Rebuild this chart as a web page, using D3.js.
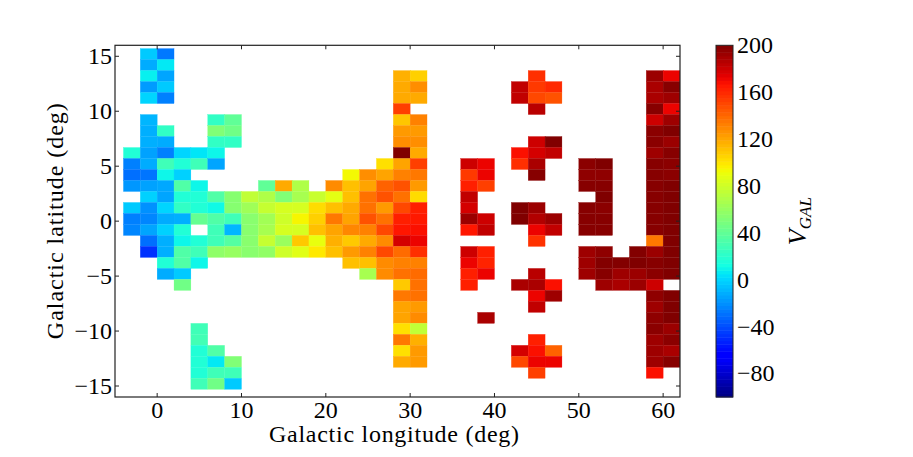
<!DOCTYPE html>
<html><head><meta charset="utf-8">
<script src="https://cdn.jsdelivr.net/npm/d3@7"></script>
<style>
body{margin:0;background:#fff}
text{font-family:"Liberation Serif","Times New Roman",serif;fill:#000}
</style>
</head><body>
<svg id="chart" width="913" height="457"></svg>
<script>
// ---------------- data ----------------
const xTicks = [0, 10, 20, 30, 40, 50, 60];
const yTicks = [-15, -10, -5, 0, 5, 10, 15];
const cbTicks = [-80, -40, 0, 40, 80, 120, 160, 200];
const xLabel = "Galactic longitude (deg)";
const yLabel = "Galactic latitude (deg)";

// cells: [galactic longitude (cell centre, deg), galactic latitude (row), V_GAL]
const innerCells = [
  [-1,15,-3],[1,15,-27],
  [-1,14,-12],[1,14,6],
  [-1,13,8],[1,13,-14],
  [-1,12,-17],[1,12,-3],
  [-1,11,0],[1,11,-25],
  [-1,9,-9],[7,9,23],[9,9,40],
  [-1,8,-11],[1,8,23],[7,8,52],[9,8,46],
  [-1,7,-11],[1,7,-12],[7,7,23],[9,7,23],
  [-3,6,17],[-1,6,-15],[1,6,-25],[3,6,0],[5,6,5],[7,6,10],
  [-3,5,-25],[-1,5,-12],[1,5,28],[3,5,17],[5,5,28],[7,5,-14],
  [-3,4,-30],[-1,4,-28],[1,4,10],[3,4,-1],[23,4,94],[25,4,128],
  [-3,3,-18],[-1,3,-15],[1,3,-13],[3,3,34],[5,3,10],[13,3,40],[15,3,119],[17,3,69],[21,3,129],[23,3,112],[25,3,121],
  [-1,2,-1],[1,2,-14],[3,2,17],[5,2,17],[7,2,34],[9,2,54],[11,2,75],[13,2,69],[15,2,52],[17,2,66],[19,2,78],[21,2,88],[23,2,112],[25,2,137],
  [-3,1,-3],[-1,1,-20],[1,1,0],[3,1,23],[5,1,17],[7,1,11],[9,1,54],[11,1,63],[13,1,77],[15,1,83],[17,1,83],[19,1,103],[21,1,112],[23,1,119],[25,1,137],
  [-3,0,-25],[-1,0,-23],[1,0,-12],[3,0,-11],[5,0,42],[7,0,34],[9,0,28],[11,0,55],[13,0,64],[15,0,80],[17,0,95],[19,0,107],[21,0,135],[23,0,121],[25,0,147],
  [-3,-1,-23],[-1,-1,-14],[1,-1,-1],[3,-1,17],[7,-1,28],[9,-1,-9],[11,-1,55],[13,-1,66],[15,-1,83],[17,-1,83],[19,-1,112],[21,-1,121],[23,-1,130],[25,-1,132],
  [-1,-2,-30],[1,-2,-11],[3,-2,10],[5,-2,17],[7,-2,28],[9,-2,36],[11,-2,55],[13,-2,77],[15,-2,61],[17,-2,109],[19,-2,90],[21,-2,117],[23,-2,109],[25,-2,119],
  [-1,-3,-48],[1,-3,-11],[3,-3,34],[5,-3,28],[7,-3,57],[9,-3,60],[11,-3,55],[13,-3,58],[15,-3,80],[17,-3,87],[19,-3,99],[21,-3,112],[23,-3,124],[25,-3,132],
  [1,-4,17],[3,-4,34],[5,-4,10],[23,-4,112],[25,-4,112],
  [1,-5,-12],[3,-5,-3],[25,-5,66],
  [3,-6,46],
  [5,-10,28],
  [5,-11,29],
  [5,-12,17],[7,-12,34],
  [5,-13,17],[7,-13,6],[9,-13,52],
  [5,-14,17],[7,-14,28],[9,-14,28],
  [5,-15,28],[7,-15,46],[9,-15,-3]
];
const midCells = [
  [29,13,117],[31,13,107],
  [29,12,119],[31,12,128],
  [29,11,119],[31,11,119],
  [29,10,153],
  [29,9,110],[31,9,132],
  [29,8,124],[31,8,124],
  [29,7,128],[31,7,128],
  [29,6,200],[31,6,119],
  [27,5,102],[29,5,121],[31,5,153],
  [27,4,121],[29,4,132],[31,4,135],
  [27,3,142],[29,3,147],[31,3,124],
  [27,2,147],[29,2,137],[31,2,103],
  [27,1,124],[29,1,150],[31,1,163],
  [27,0,137],[29,0,163],[31,0,165],
  [27,-1,150],[29,-1,166],[31,-1,168],
  [27,-2,129],[29,-2,178],[31,-2,172],
  [27,-3,150],[29,-3,139],[31,-3,158],
  [27,-4,129],[29,-4,132],[31,-4,132],
  [27,-5,129],[29,-5,137],[31,-5,139],
  [29,-6,109],[31,-6,137],
  [29,-7,135],[31,-7,137],
  [29,-8,121],[31,-8,124],
  [29,-9,121],[31,-9,129],
  [29,-10,102],[31,-10,75],
  [29,-11,135],[31,-11,117],
  [29,-12,102],[31,-12,124],
  [29,-13,119],[31,-13,124]
];
const outerCells = [
  [45,13,158],[59,13,193],[61,13,172],
  [43,12,183],[45,12,155],[47,12,160],[59,12,189],[61,12,198],
  [43,11,183],[45,11,150],[47,11,147],[59,11,189],[61,11,192],
  [45,10,185],[59,10,198],[61,10,172],
  [59,9,180],[61,9,192],
  [59,8,197],[61,8,200],
  [45,7,180],[47,7,200],[59,7,197],[61,7,193],
  [43,6,168],[45,6,178],[47,6,183],[59,6,192],[61,6,198],
  [37,5,180],[39,5,172],[43,5,158],[45,5,189],[51,5,197],[53,5,200],[59,5,198],[61,5,197],
  [37,4,155],[39,4,172],[45,4,198],[51,4,196],[53,4,196],[59,4,198],[61,4,197],
  [37,3,163],[39,3,153],[51,3,198],[53,3,198],[59,3,198],[61,3,200],
  [37,2,183],[53,2,200],[59,2,198],[61,2,200],
  [37,1,178],[43,1,200],[45,1,193],[51,1,198],[53,1,197],[59,1,198],[61,1,200],
  [37,0,193],[39,0,180],[43,0,200],[45,0,187],[47,0,193],[51,0,198],[53,0,198],[59,0,198],[61,0,200],
  [37,-1,166],[39,-1,183],[45,-1,172],[47,-1,183],[51,-1,198],[53,-1,198],[59,-1,198],[61,-1,200],
  [45,-2,157],[59,-2,135],[61,-2,200],
  [37,-3,180],[39,-3,163],[51,-3,192],[53,-3,196],[57,-3,199],[59,-3,193],[61,-3,200],
  [37,-4,172],[39,-4,162],[51,-4,192],[53,-4,199],[55,-4,199],[57,-4,200],[59,-4,198],[61,-4,200],
  [37,-5,163],[39,-5,172],[45,-5,185],[51,-5,192],[53,-5,198],[55,-5,192],[57,-5,193],[59,-5,197],[61,-5,200],
  [37,-6,163],[43,-6,189],[45,-6,189],[47,-6,168],[53,-6,192],[55,-6,189],[57,-6,193],[59,-6,180],
  [45,-7,172],[47,-7,192],[59,-7,196],[61,-7,200],
  [45,-8,183],[59,-8,192],[61,-8,200],
  [39,-9,189],[59,-9,196],[61,-9,200],
  [59,-10,197],[61,-10,193],
  [45,-11,163],[59,-11,192],[61,-11,197],
  [43,-12,178],[45,-12,168],[47,-12,142],[59,-12,192],[61,-12,189],
  [43,-13,150],[45,-13,172],[47,-13,172],[59,-13,192],[61,-13,198],
  [45,-14,153],[59,-14,168]
];

// ---------------- layout ----------------
const svg = d3.select("#chart");
const plot = {left: 115, right: 680, top: 45.3, bottom: 397};
const cellW = 2, cellH = 1, cellOff = 0.3;
const x = d3.scaleLinear().domain([-5, 62]).range([plot.left, plot.right]);
const y = d3.scaleLinear().domain([-16, 16]).range([plot.bottom, plot.top]);

// matplotlib "jet" colormap
function seg(pts, t) {
  for (let i = 1; i < pts.length; i++) {
    if (t <= pts[i][0]) {
      const [t0, v0] = pts[i - 1], [t1, v1] = pts[i];
      return v0 + (v1 - v0) * (t - t0) / (t1 - t0);
    }
  }
  return pts[pts.length - 1][1];
}
const JR = [[0,0],[0.35,0],[0.66,1],[0.89,1],[1,0.5]];
const JG = [[0,0],[0.125,0],[0.375,1],[0.64,1],[0.91,0],[1,0]];
const JB = [[0,0.5],[0.11,1],[0.34,1],[0.65,0],[1,0]];
function jet(t) {
  t = Math.max(0, Math.min(1, t));
  return d3.rgb(255 * seg(JR, t), 255 * seg(JG, t), 255 * seg(JB, t)).toString();
}
const color = d3.scaleSequential(jet).domain([-100, 200]);

svg.append("rect").attr("width", 913).attr("height", 457).attr("fill", "#fff");

svg.append("clipPath").attr("id", "clip").append("rect")
  .attr("x", plot.left).attr("y", plot.top)
  .attr("width", plot.right - plot.left).attr("height", plot.bottom - plot.top);

const allCells = innerCells.concat(midCells, outerCells);
svg.append("g").attr("clip-path", "url(#clip)")
  .selectAll("rect").data(allCells).join("rect")
  .attr("x", d => x(d[0] - cellW / 2))
  .attr("width", d => x(d[0] + cellW / 2) - x(d[0] - cellW / 2))
  .attr("y", d => y(d[1] + cellH - cellOff))
  .attr("height", d => y(d[1] - cellOff) - y(d[1] + cellH - cellOff))
  .attr("fill", d => color(d[2]))
  .attr("stroke", d => color(d[2]))
  .attr("stroke-width", 0.3);

// axes (ticks inside, on all four sides)
const fmt = v => (v < 0 ? "\u2212" + Math.abs(v) : String(v));
const tickLen = 4;
const axG = svg.append("g").attr("stroke", "#222").attr("stroke-width", 1);
xTicks.forEach(t => {
  axG.append("line").attr("x1", x(t)).attr("x2", x(t)).attr("y1", plot.bottom).attr("y2", plot.bottom - tickLen);
  axG.append("line").attr("x1", x(t)).attr("x2", x(t)).attr("y1", plot.top).attr("y2", plot.top + tickLen);
});
yTicks.forEach(t => {
  axG.append("line").attr("y1", y(t)).attr("y2", y(t)).attr("x1", plot.left).attr("x2", plot.left + tickLen);
  axG.append("line").attr("y1", y(t)).attr("y2", y(t)).attr("x1", plot.right).attr("x2", plot.right - tickLen);
});
svg.append("rect").attr("x", plot.left).attr("y", plot.top)
  .attr("width", plot.right - plot.left).attr("height", plot.bottom - plot.top)
  .attr("fill", "none").attr("stroke", "#222").attr("stroke-width", 1.2);

const fs = 24;
svg.append("g").selectAll("text").data(xTicks).join("text")
  .attr("x", d => x(d)).attr("y", 418).attr("text-anchor", "middle")
  .attr("font-size", fs).text(fmt);
svg.append("g").selectAll("text").data(yTicks).join("text")
  .attr("x", plot.left - 3).attr("y", d => y(d)).attr("dy", "0.33em").attr("text-anchor", "end")
  .attr("font-size", fs).text(fmt);

svg.append("text").attr("x", 394).attr("y", 442)
  .attr("text-anchor", "middle").attr("font-size", fs)
  .attr("textLength", 250).attr("lengthAdjust", "spacing").text(xLabel);
svg.append("text").attr("transform", `translate(63,${(plot.top + plot.bottom) / 2}) rotate(-90)`)
  .attr("text-anchor", "middle").attr("font-size", fs)
  .attr("textLength", 236).attr("lengthAdjust", "spacing").text(yLabel);

// colour bar
const cb = {x: 716, w: 17, top: 45.3, bottom: 397};
const cy = d3.scaleLinear().domain([-100, 200]).range([cb.bottom, cb.top]);
const nBands = 100;
const bands = d3.range(nBands).map(i => -100 + 300 * i / nBands);
svg.append("g").selectAll("rect").data(bands).join("rect")
  .attr("x", cb.x).attr("width", cb.w)
  .attr("y", d => cy(d + 300 / nBands)).attr("height", d => cy(d) - cy(d + 300 / nBands) + 0.5)
  .attr("fill", d => color(d + 150 / nBands));
svg.append("rect").attr("x", cb.x).attr("y", cb.top).attr("width", cb.w).attr("height", cb.bottom - cb.top)
  .attr("fill", "none").attr("stroke", "#222").attr("stroke-width", 1);
svg.append("g").selectAll("text").data(cbTicks).join("text")
  .attr("x", cb.x + cb.w + 4).attr("y", d => cy(d)).attr("dy", "0.33em")
  .attr("font-size", fs).text(fmt);

const vlab = svg.append("text").attr("transform", `translate(806,${(cb.top + cb.bottom) / 2}) rotate(-90)`)
  .attr("text-anchor", "middle").attr("font-style", "italic");
vlab.append("tspan").attr("font-size", 26).text("V");
vlab.append("tspan").attr("font-size", 17).attr("dy", 5).text("GAL");
</script>
</body></html>
